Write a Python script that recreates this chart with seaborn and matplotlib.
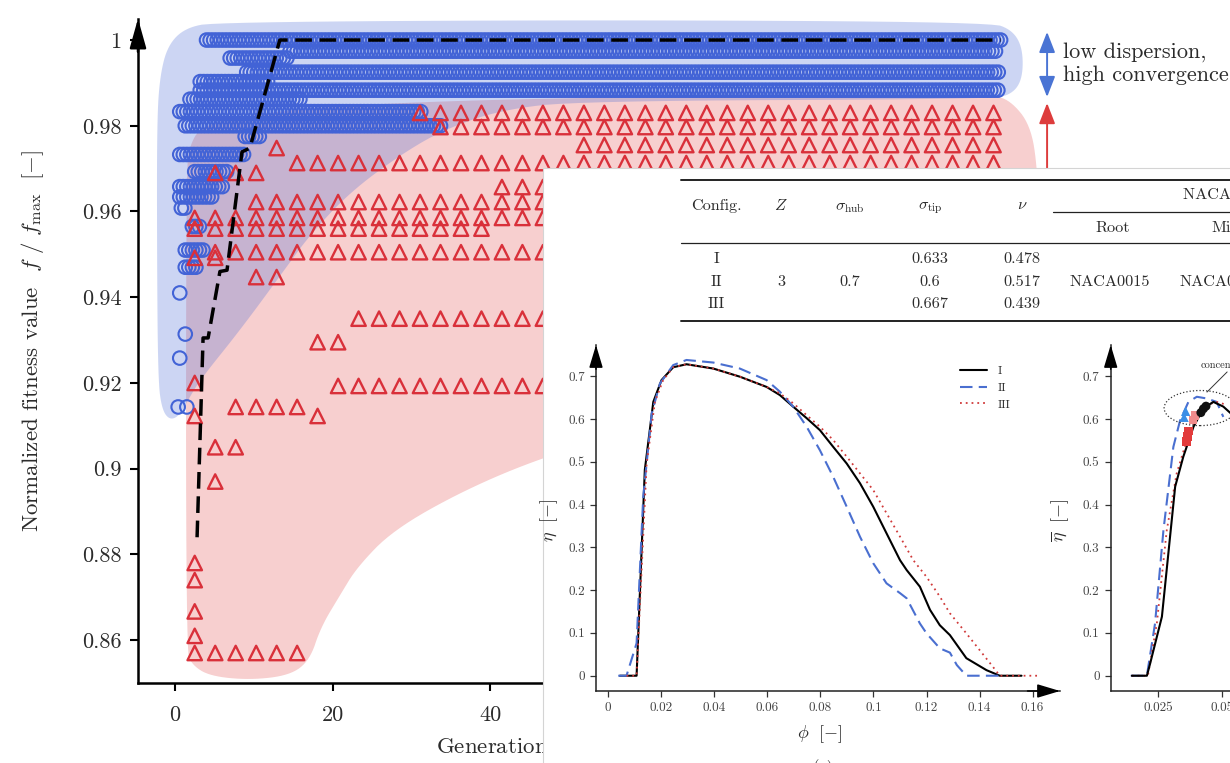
import numpy as np
import matplotlib
matplotlib.use("Agg")
import matplotlib.pyplot as plt
import seaborn as sns
from matplotlib.patches import Polygon, Ellipse, Rectangle

# ------------------------------------------------------------------ data
# main chart: rows of blue circles (value, first generation, last generation)
circle_row_val = [1.000, 0.9974, 0.9958, 0.9925, 0.9903, 0.9883, 0.9862, 0.9833,
                  0.9800, 0.9775, 0.9733, 0.9693, 0.9658, 0.9634, 0.9608, 0.9565,
                  0.9510, 0.9470]
circle_row_start = [4.0, 14.6, 7.0, 9.1, 3.2, 3.2, 1.9, 0.6, 1.3, 8.9, 0.6, 2.5,
                    0.6, 0.6, 0.8, 2.2, 1.3, 1.3]
circle_row_end = [104.8, 104.4, 14.6, 104.8, 12.1, 104.8, 15.9, 31.5, 33.7, 11.0,
                  8.9, 6.6, 6.0, 4.7, 1.5, 3.2, 3.8, 2.8]
circle_step = 0.45
circle_single_gen = [0.6, 1.3, 0.6, 0.4, 1.5]
circle_single_val = [0.941, 0.9314, 0.9258, 0.9144, 0.9144]

# main chart: rows of red triangles (value, first generation, last generation)
tri_grid_first, tri_grid_step, tri_grid_count = 2.5, 2.6, 40
tri_row_val = [0.9830, 0.9797, 0.9755, 0.9748, 0.9713, 0.9690, 0.9657, 0.9622,
               0.9585, 0.9560, 0.9505, 0.9492, 0.9447, 0.9350, 0.9295, 0.9193,
               0.9200, 0.9144, 0.9123, 0.9123, 0.9050, 0.8970, 0.8780, 0.8740,
               0.8667, 0.8610, 0.8570]
tri_row_start = [31.0, 33.7, 51.5, 12.9, 15.5, 5.1, 41.0, 10.3, 2.5, 2.5, 5.1, 2.5,
                 10.3, 23.3, 18.1, 20.7, 2.5, 7.7, 2.5, 18.1, 5.1, 5.1, 2.5, 2.5,
                 2.5, 2.5, 2.5]
tri_row_end = [104.8, 104.8, 104.8, 12.9, 104.8, 10.3, 104.8, 104.8, 104.8, 39.5,
               104.8, 5.1, 12.9, 104.8, 20.7, 104.8, 2.5, 15.5, 2.5, 18.1, 7.7, 5.1,
               2.5, 2.5, 2.5, 2.5, 15.5]

# best-so-far curve
best_gen = [2.8, 3.56, 4.2, 5.7, 6.6, 8.5, 9.5, 13.3, 104.8]
best_val = [0.884, 0.9305, 0.9305, 0.946, 0.9463, 0.9739, 0.9748, 1.0, 1.0]

# shaded envelopes (outline points, generation / value)
blue_env_gen = [-0.63, -1.65, -2.16, -2.29, -2.29, -1.9, -0.9, 1.27, 5.08, 54.0, 103.5,
                106.3, 107.6, 107.6, 106.3, 103.5, 51.4, 41.3, 34.0, 28.6, 22.2, 17.1,
                13.7, 8.25, 3.17, 1.65, 0.63]
blue_env_val = [0.9113, 0.9137, 0.9207, 0.951, 0.9813, 0.9918, 0.9988, 1.0028, 1.0042,
                1.0047, 1.0042, 1.0023, 0.9981, 0.9911, 0.9874, 0.9862, 0.9858, 0.9837,
                0.979, 0.9732, 0.9645, 0.9545, 0.9459, 0.9323, 0.9207, 0.916, 0.9125]
red_env_gen = [1.4, 2.16, 4.44, 9.52, 14.6, 17.1, 18.5, 20.95, 23.1, 27.7, 36.7, 46.7,
               60.3, 79.4, 98.4, 109.8, 109.8, 109.5, 108.6, 106.0, 103.5, 51.4, 19.7,
               7.0, 3.17, 1.9, 1.4]
red_env_val = [0.8577, 0.8542, 0.8516, 0.8507, 0.8518, 0.8553, 0.863, 0.8705, 0.877,
               0.8857, 0.895, 0.9027, 0.9102, 0.916, 0.9195, 0.9207, 0.951, 0.9697,
               0.9802, 0.986, 0.9872, 0.9867, 0.9848, 0.9818, 0.9795, 0.9755, 0.9697]

main_yticks = [0.86, 0.88, 0.90, 0.92, 0.94, 0.96, 0.98, 1.00]
main_yticklabels = ["0.86", "0.88", "0.9", "0.92", "0.94", "0.96", "0.98", "1"]
main_xticks = [0, 20, 40]
main_xticklabels = ["0", "20", "40"]

# inset table
cfg_names = ["I", "II", "III"]
cfg_Z = "3"
cfg_sigma_hub = "0.7"
cfg_sigma_tip = ["0.633", "0.6", "0.667"]
cfg_nu = ["0.478", "0.517", "0.439"]
cfg_root = "NACA0015"
cfg_mid = "NACA0012"

# inset (a): efficiency curves
phi_I = [0.0044, 0.0107, 0.0138, 0.0170, 0.0201, 0.0245, 0.0295, 0.0396, 0.0496,
         0.0597, 0.0647, 0.0697, 0.0748, 0.0798, 0.0848, 0.0899, 0.0949, 0.0999,
         0.1049, 0.1100, 0.1125, 0.1175, 0.1213, 0.1250, 0.1288, 0.1350, 0.1426,
         0.1476, 0.1558]
eta_I = [0, 0, 0.481, 0.640, 0.691, 0.721, 0.728, 0.718, 0.699, 0.675, 0.656, 0.629,
         0.602, 0.574, 0.535, 0.496, 0.450, 0.395, 0.333, 0.270, 0.247, 0.208, 0.154,
         0.118, 0.095, 0.041, 0.013, 0.0, 0.0]
phi_II = [0.0038, 0.0069, 0.0107, 0.0132, 0.0164, 0.0195, 0.0245, 0.0295, 0.0396,
          0.0496, 0.0597, 0.0647, 0.0697, 0.0748, 0.0798, 0.0848, 0.0899, 0.0949,
          0.0999, 0.1049, 0.1100, 0.1125, 0.1175, 0.1200, 0.1250, 0.1288, 0.1314,
          0.1350, 0.1476]
eta_II = [0, 0, 0.076, 0.418, 0.613, 0.683, 0.726, 0.738, 0.732, 0.718, 0.691, 0.664,
          0.629, 0.582, 0.527, 0.465, 0.395, 0.325, 0.263, 0.216, 0.193, 0.181, 0.122,
          0.099, 0.064, 0.054, 0.025, 0.0, 0.0]
phi_III = [0.0069, 0.0107, 0.0145, 0.0176, 0.0207, 0.0245, 0.0295, 0.0396, 0.0496,
           0.0597, 0.0647, 0.0697, 0.0748, 0.0798, 0.0848, 0.0899, 0.0949, 0.0999,
           0.1049, 0.1100, 0.1150, 0.1200, 0.1250, 0.1288, 0.1350, 0.1400, 0.1450,
           0.1476, 0.1620]
eta_III = [0, 0, 0.496, 0.640, 0.691, 0.721, 0.728, 0.718, 0.699, 0.675, 0.660, 0.637,
           0.609, 0.582, 0.551, 0.512, 0.473, 0.434, 0.380, 0.325, 0.270, 0.231, 0.185,
           0.146, 0.099, 0.060, 0.021, 0.0, 0.0]
inset_xticks = [0, 0.02, 0.04, 0.06, 0.08, 0.10, 0.12, 0.14, 0.16]
inset_xticklabels = ["0", "0.02", "0.04", "0.06", "0.08", "0.1", "0.12", "0.14", "0.16"]
inset_yticks = [0, 0.1, 0.2, 0.3, 0.4, 0.5, 0.6, 0.7]
inset_yticklabels = ["0", "0.1", "0.2", "0.3", "0.4", "0.5", "0.6", "0.7"]

# inset (b): mean efficiency curves
phib_I = [0.0147, 0.0206, 0.0219, 0.0265, 0.0317, 0.0349, 0.0389, 0.0428, 0.0467, 0.0506, 0.056]
etab_I = [0, 0, 0.029, 0.138, 0.442, 0.512, 0.582, 0.625, 0.640, 0.629, 0.60]
phib_II = [0.0143, 0.0206, 0.0238, 0.0271, 0.0310, 0.0336, 0.0369, 0.0402, 0.0441, 0.0480, 0.0506]
etab_II = [0, 0, 0.122, 0.340, 0.535, 0.596, 0.640, 0.652, 0.648, 0.640, 0.605]
phib_III = [0.0147, 0.0210, 0.0245, 0.0284, 0.0323, 0.0363, 0.0402, 0.0441, 0.0480, 0.0520]
etab_III = [0, 0, 0.122, 0.340, 0.473, 0.551, 0.605, 0.633, 0.640, 0.633]
mk_black_phi, mk_black_eta = [0.0418, 0.0428, 0.0438], [0.615, 0.624, 0.630]
mk_red_phi, mk_red_eta = [0.0362, 0.0366, 0.0370], [0.548, 0.560, 0.572]
mk_pink_phi, mk_pink_eta = [0.0388, 0.0395], [0.598, 0.608]
mk_blue_phi, mk_blue_eta = [0.0352, 0.0358], [0.604, 0.618]
insetb_xticks = [0.025, 0.05, 0.075]
insetb_xticklabels = ["0.025", "0.05", "0.075"]

# ------------------------------------------------------------------ style
sns.set_style("ticks")
plt.rcParams["font.family"] = ["cmr10", "DejaVu Serif"]
plt.rcParams["mathtext.fontset"] = "cm"
plt.rcParams["axes.formatter.use_mathtext"] = True
plt.rcParams["axes.unicode_minus"] = False

BLUE = "#4263d6"
RED = "#d9303a"
TXT = "#2b2b2b"

W, H = 1230, 763
fig = plt.figure(figsize=(W / 100, H / 100), dpi=100)


def frac(x0, y0, x1, y1):
    """pixel box (top-left origin) -> figure fraction rect"""
    return [x0 / W, (H - y1) / H, (x1 - x0) / W, (y1 - y0) / H]


def smooth(px, py, n=3):
    p = np.column_stack([px, py]).astype(float)
    for _ in range(n):
        q = np.roll(p, -1, axis=0)
        a = 0.75 * p + 0.25 * q
        b = 0.25 * p + 0.75 * q
        p = np.empty((2 * len(a), 2))
        p[0::2] = a
        p[1::2] = b
    return p


# ------------------------------------------------------------------ main chart
ax = fig.add_axes(frac(138, 18.6, 1040, 683), zorder=0)
ax.set_xlim(-4.7, 109.8)
ax.set_ylim(0.85, 1.005)

ax.add_patch(Polygon(smooth(red_env_gen, red_env_val), closed=True,
                     fc="#e04040", alpha=0.25, ec="none", zorder=1))
ax.add_patch(Polygon(smooth(blue_env_gen, blue_env_val), closed=True,
                     fc="#4a6bd6", alpha=0.28, ec="none", zorder=1.1))

cx, cy = [], []
for v, s, e in zip(circle_row_val, circle_row_start, circle_row_end):
    g = np.arange(s, e + 1e-9, circle_step)
    cx.extend(g)
    cy.extend([v] * len(g))
cx.extend(circle_single_gen)
cy.extend(circle_single_val)
sns.scatterplot(x=cx, y=cy, ax=ax, marker="o", s=95, facecolors="none",
                edgecolor=BLUE, linewidth=1.5, zorder=2, legend=False)

tri_grid = tri_grid_first + tri_grid_step * np.arange(tri_grid_count)
tx, ty = [], []
for v, s, e in zip(tri_row_val, tri_row_start, tri_row_end):
    g = tri_grid[(tri_grid >= s - 0.15) & (tri_grid <= e + 0.15)]
    tx.extend(g)
    ty.extend([v] * len(g))
sns.scatterplot(x=tx, y=ty, ax=ax, marker="^", s=108, facecolors="none",
                edgecolor=RED, linewidth=1.7, zorder=3, legend=False)

sns.lineplot(x=best_gen, y=best_val, ax=ax, color="black", lw=2.5,
             linestyle=(0, (4.8, 2.2)), sort=False, estimator=None, zorder=4)

for side in ["top", "right"]:
    ax.spines[side].set_visible(False)
for side in ["left", "bottom"]:
    ax.spines[side].set_linewidth(1.8)
    ax.spines[side].set_color("black")
ax.set_yticks(main_yticks)
ax.set_yticklabels(main_yticklabels)
ax.set_xticks(main_xticks)
ax.set_xticklabels(main_xticklabels)
ax.tick_params(direction="out", length=6, width=1.5, labelsize=16, pad=6,
               labelcolor=TXT, color="black")
ax.tick_params(axis="x", pad=10)
ax.annotate("", xy=(0, 1.0), xytext=(0, 0.95), xycoords="axes fraction",
            arrowprops=dict(arrowstyle="-|>,head_length=1.0,head_width=0.28",
                            color="black", lw=1.8, mutation_scale=18,
                            shrinkA=0, shrinkB=0), annotation_clip=False)
ax.set_ylabel(r"Normalized fitness value  $f\ /\ f_{\max}\ \ [-]$", fontsize=16.5,
              color=TXT)
ax.yaxis.set_label_coords(-0.102, 0.515)
ax.set_xlabel(r"Generation number  $[-]$", fontsize=16.5, color=TXT, ha="left",
              va="center")
ax.xaxis.set_label_coords(0.3304, -0.0978)

# dispersion annotations
ax.annotate("", xy=(110.7, 1.0019), xytext=(110.7, 0.9867),
            arrowprops=dict(arrowstyle="<|-|>,head_length=0.9,head_width=0.35",
                            color="#4a74d4", lw=1.4, mutation_scale=14,
                            shrinkA=0, shrinkB=0), annotation_clip=False)
ax.annotate("", xy=(110.7, 0.9853), xytext=(110.7, 0.955),
            arrowprops=dict(arrowstyle="-|>,head_length=0.9,head_width=0.35",
                            color="#dd3c3c", lw=1.4, mutation_scale=14,
                            shrinkA=0, shrinkB=0), annotation_clip=False)
ax.text(112.7, 0.9945, "low dispersion,\nhigh convergence", fontsize=16, color=TXT,
        ha="left", va="center", linespacing=1.25, clip_on=False)

# ------------------------------------------------------------------ inset background + table
ov = fig.add_axes([0, 0, 1, 1], zorder=5)
ov.set_xlim(0, W)
ov.set_ylim(H, 0)
ov.axis("off")
ov.patch.set_alpha(0)
ov.add_patch(Rectangle((543, 168), 720, 620, fc="white", ec="#d4d4d4", lw=0.8))
ov.plot([681, 1240], [180, 180], color="#222", lw=1.4)
ov.plot([1053, 1240], [212, 212], color="#222", lw=0.9)
ov.plot([681, 1240], [243, 243], color="#222", lw=0.9)
ov.plot([681, 1240], [321, 321], color="#222", lw=1.4)
tf = 11.7
ov.text(716, 206, "Config.", fontsize=tf, ha="center", va="center", color=TXT)
ov.text(781, 205, r"$Z$", fontsize=tf, ha="center", va="center", color=TXT)
ov.text(850, 208, r"$\sigma_{\mathrm{hub}}$", fontsize=tf, ha="center", va="center", color=TXT)
ov.text(930, 208, r"$\sigma_{\mathrm{tip}}$", fontsize=tf, ha="center", va="center", color=TXT)
ov.text(1022, 205, r"$\nu$", fontsize=tf, ha="center", va="center", color=TXT)
ov.text(1183, 195, "NACA profile", fontsize=tf, ha="left", va="center", color=TXT)
ov.text(1113, 228, "Root", fontsize=tf, ha="center", va="center", color=TXT)
ov.text(1211, 228, "Mid", fontsize=tf, ha="left", va="center", color=TXT)
row_y = [259, 282, 304]
for name, st, nu, yy in zip(cfg_names, cfg_sigma_tip, cfg_nu, row_y):
    ov.text(716, yy, name, fontsize=tf, ha="center", va="center", color=TXT)
    ov.text(930, yy, st, fontsize=tf, ha="center", va="center", color=TXT)
    ov.text(1022, yy, nu, fontsize=tf, ha="center", va="center", color=TXT)
ov.text(781, row_y[1], cfg_Z, fontsize=tf, ha="center", va="center", color=TXT)
ov.text(850, row_y[1], cfg_sigma_hub, fontsize=tf, ha="center", va="center", color=TXT)
ov.text(1110, row_y[1], cfg_root, fontsize=tf, ha="center", va="center", color=TXT)
ov.text(1180, row_y[1], cfg_mid, fontsize=tf, ha="left", va="center", color=TXT)
ov.text(823, 759, "(a)", fontsize=12, ha="center", va="top", color=TXT)


def style_inset(a, xarrow=True):
    for side in ["top", "right"]:
        a.spines[side].set_visible(False)
    for side in ["left", "bottom"]:
        a.spines[side].set_linewidth(1.1)
        a.spines[side].set_color("#222")
    a.set_facecolor("none")
    a.tick_params(direction="out", length=4, width=0.9, labelsize=9.5, pad=4,
                  labelcolor="#444", color="#333")
    a.annotate("", xy=(0, 1.0), xytext=(0, 0.93), xycoords="axes fraction",
               arrowprops=dict(arrowstyle="-|>,head_length=1.0,head_width=0.3",
                               color="black", lw=1.1, mutation_scale=14,
                               shrinkA=0, shrinkB=0), annotation_clip=False)
    if xarrow:
        a.annotate("", xy=(1.0, 0), xytext=(0.93, 0), xycoords="axes fraction",
                   arrowprops=dict(arrowstyle="-|>,head_length=1.0,head_width=0.3",
                                   color="black", lw=1.1, mutation_scale=14,
                                   shrinkA=0, shrinkB=0), annotation_clip=False)


# ------------------------------------------------------------------ inset (a)
ax1 = fig.add_axes(frac(596, 345, 1060, 691), zorder=6)
ax1.set_xlim(-0.0046, 0.1703)
ax1.set_ylim(-0.0357, 0.773)
sns.lineplot(x=phi_I, y=eta_I, ax=ax1, color="black", lw=1.5, sort=False,
             estimator=None, label="I")
sns.lineplot(x=phi_II, y=eta_II, ax=ax1, color="#4a6fd0", lw=1.5, sort=False,
             estimator=None, linestyle=(0, (6, 3)), label="II")
sns.lineplot(x=phi_III, y=eta_III, ax=ax1, color="#d03a3a", lw=1.3, sort=False,
             estimator=None, linestyle=(0, (1, 2.2)), label="III")
ax1.set_xticks(inset_xticks)
ax1.set_xticklabels(inset_xticklabels)
ax1.set_yticks(inset_yticks)
ax1.set_yticklabels(inset_yticklabels)
style_inset(ax1)
ax1.set_xlabel(r"$\phi\ \ [-]$", fontsize=13, color=TXT)
ax1.xaxis.set_label_coords((820 - 596) / 464, (691 - 723) / 346)
ax1.set_ylabel(r"$\eta\ \ [-]$", fontsize=13, color=TXT)
ax1.yaxis.set_label_coords((560 - 596) / 464, (691 - 520) / 346)
ax1.legend(loc="upper left", bbox_to_anchor=(0.785, 0.94), frameon=False,
           fontsize=8.5, handlelength=2.3, labelspacing=0.55, handletextpad=0.9,
           borderpad=0, borderaxespad=0)

# ------------------------------------------------------------------ inset (b)
ax2 = fig.add_axes(frac(1110.7, 345, 1300, 691), zorder=6)
ax2.set_xlim(0.0064, 0.0807)
ax2.set_ylim(-0.0357, 0.773)
sns.lineplot(x=phib_II, y=etab_II, ax=ax2, color="#4a6fd0", lw=1.5, sort=False,
             estimator=None, linestyle=(0, (6, 3)))
sns.lineplot(x=phib_III, y=etab_III, ax=ax2, color="#d03a3a", lw=1.3, sort=False,
             estimator=None, linestyle=(0, (1, 2.2)))
sns.lineplot(x=phib_I, y=etab_I, ax=ax2, color="black", lw=1.5, sort=False,
             estimator=None)
sns.scatterplot(x=mk_blue_phi, y=mk_blue_eta, ax=ax2, marker="^", s=45,
                color="#3a8ee6", edgecolor="none", zorder=5, legend=False)
sns.scatterplot(x=mk_red_phi, y=mk_red_eta, ax=ax2, marker="s", s=40,
                color="#e23b3b", edgecolor="none", zorder=5, legend=False)
sns.scatterplot(x=mk_pink_phi, y=mk_pink_eta, ax=ax2, marker="s", s=36,
                color="#f08c8c", edgecolor="none", zorder=5, legend=False)
sns.scatterplot(x=mk_black_phi, y=mk_black_eta, ax=ax2, marker="o", s=42,
                color="#111111", edgecolor="none", zorder=6, legend=False)
ax2.add_patch(Ellipse((0.0415, 0.6256), 0.0283, 0.082, fill=False, ls=":",
                      ec="#333", lw=0.9, zorder=7))
ax2.plot([0.0442, 0.0521], [0.663, 0.71], color="#333", lw=0.7)
ax2.text(0.0415, 0.726, "concentrated", fontsize=7.5, ha="left", va="center",
         color=TXT)
ax2.set_xticks(insetb_xticks)
ax2.set_xticklabels(insetb_xticklabels)
ax2.set_yticks(inset_yticks)
ax2.set_yticklabels(inset_yticklabels)
style_inset(ax2, xarrow=False)
ax2.set_ylabel(r"$\overline{\eta}\ \ [-]$", fontsize=13, color=TXT)
ax2.yaxis.set_label_coords((1071 - 1110.7) / 189.3, (691 - 520) / 346)

fig.savefig("out.png", dpi=100)
